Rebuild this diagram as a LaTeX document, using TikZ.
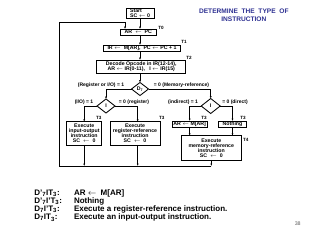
\documentclass[tikz,border=0pt]{standalone}
\usepackage{fontspec}
\setmainfont{Liberation Sans}
\usetikzlibrary{arrows.meta,shapes.geometric}
\definecolor{ttl}{RGB}{46,49,146}
\definecolor{pgn}{RGB}{90,90,90}
\begin{document}
\begin{tikzpicture}[x=1pt,y=-1pt,
  every node/.style={inner sep=0pt, outer sep=0pt},
  box/.style={draw, line width=0.85pt, align=center, font=\fontsize{5.2}{5}\selectfont\bfseries},
  dia/.style={draw, line width=0.85pt, shape=diamond, font=\fontsize{5.2}{5}\selectfont\bfseries},
  lbl/.style={font=\fontsize{5}{5}\selectfont\bfseries},
  tl/.style={font=\fontsize{4.6}{5}\selectfont\bfseries},
  arr/.style={line width=0.75pt, -{Latex[length=2.3pt,width=1.9pt]}},
  big/.style={font=\fontsize{8}{8}\selectfont\bfseries, anchor=base west}]
\useasboundingbox (0,0) rectangle (320,240);
% boxes
\node[box, minimum width=28pt, minimum height=10pt, align=left] (start) at (140,13) {Start\\SC $\leftarrow$ 0};
\node[box, minimum width=35.3pt, minimum height=6pt] (ar) at (138.3,32) {AR \ $\leftarrow$ \ PC};
\node[box, minimum width=76.6pt, minimum height=6.7pt] (ir) at (142,48.3) {IR $\leftarrow$ \ M[AR], \ PC $\leftarrow$ PC + 1};
\node[box, minimum width=89pt, minimum height=13.5pt] (dec) at (141.2,66.7) {Decode Opcode in IR(12-14),\\[0.6pt]AR $\leftarrow$ IR(0-11), \ \ I $\leftarrow$ IR(15)};
\node[dia, minimum width=17pt, minimum height=13pt] (d7) at (140,89) {D\textsubscript{7}};
\node[dia, minimum width=18pt, minimum height=14pt] (il) at (106,106) {I};
\node[dia, minimum width=19pt, minimum height=15pt] (ir2) at (210.7,106) {I};
\node[box, minimum width=35pt, minimum height=23.3pt] (exio) at (84.2,133.3) {Execute\\input-output\\instruction\\SC \ $\leftarrow$ \ 0};
\node[box, minimum width=50pt, minimum height=23.3pt] (exreg) at (135,133.3) {Execute\\register-reference\\instruction\\SC \ $\leftarrow$ \ 0};
\node[box, minimum width=34.7pt, minimum height=6.5pt] (armar) at (189.7,124.2) {AR $\leftarrow$ M[AR]};
\node[box, minimum width=28pt, minimum height=6.5pt] (noth) at (232.5,124.2) {Nothing};
\node[box, minimum width=59.3pt, minimum height=24.3pt] (exmem) at (211.3,147.8) {Execute\\memory-reference\\instruction\\SC \ $\leftarrow$ \ 0};
% T labels
\node[tl] (t0) at (161,28) {T0};
\node[tl] (t1) at (184,41.7) {T1};
\node[tl] (t2) at (189,57.7) {T2};
\node[tl] (t3a) at (98.7,117.7) {T3};
\node[tl] (t3b) at (161.7,117.7) {T3};
\node[tl] (t3c) at (204,117.7) {T3};
\node[tl] (t3d) at (243,117.7) {T3};
\node[tl] (t4) at (245.7,140) {T4};
% branch labels
\node[lbl] (b1) at (101,85.6) {(Register or I/O) = 1};
\node[lbl] (b2) at (181.5,85.6) {= 0 (Memory-reference)};
\node[lbl] (b3) at (84,102.6) {(I/O) = 1};
\node[lbl] (b4) at (134,102.6) {= 0 (register)};
\node[lbl] (b5) at (183,102.6) {(indirect) = 1};
\node[lbl] (b6) at (235,102.6) {= 0 (direct)};
% coordinates
\coordinate (regx) at (137.7,0);
\coordinate (bot) at (59.3,166);
\coordinate (top) at (59.3,22);
\coordinate (lx) at (125,22);
% connectors
\draw[arr] (start.south) -- (start.south |- ar.north);
\draw[arr] (d7.north |- ar.south) -- (d7.north |- ir.north);
\draw[arr] (d7.north |- ir.south) -- (d7.north |- dec.north);
\draw[arr] (d7.north |- dec.south) -- (d7.north);
\draw[arr] (d7.west) -| (il.north);
\draw[arr] (d7.east) -| (ir2.north);
\draw[arr] (il.west) -| (exio.north);
\draw[arr] (il.east) -| (regx |- exreg.north);
\draw[arr] (ir2.west) -| (armar.north);
\draw[arr] (ir2.east) -| (noth.north);
\draw[arr] (armar.south) -- (armar.south |- exmem.north);
\draw[arr] (noth.south) -- (noth.south |- exmem.north);
\draw[arr] (exio.south) -- (exio.south |- bot);
\draw[arr] (regx |- exreg.south) -- (regx |- bot);
\draw[arr] (exmem.south) -- (exmem.south |- bot);
\draw[arr] (exmem.south |- bot) -- (bot) -- (top) -- (lx) -- (lx |- ar.north);
% title
\node[font=\fontsize{6.6}{7.2}\selectfont\bfseries, text=ttl, align=center] (title) at (243.8,15.3) {DETERMINE\ \ THE\ \ TYPE\ \ OF\\INSTRUCTION};
% bottom text
\node[big] (c1) at (34.3,195.2) {D'\textsubscript{7}IT\textsubscript{3}:};
\node[big] (c2) at (34.3,203.4) {D'\textsubscript{7}I'T\textsubscript{3}:};
\node[big] (c3) at (34.3,211.5) {D\textsubscript{7}I'T\textsubscript{3}:};
\node[big] (c4) at (34.3,219.6) {D\textsubscript{7}IT\textsubscript{3}:};
\node[big] (d1) at (74,195.2) {AR $\leftarrow$ \ M[AR]};
\node[big] (d2) at (74,203.4) {Nothing};
\node[big] (d3) at (74,211.5) {Execute a register-reference instruction.};
\node[big] (d4) at (74,219.6) {Execute an input-output instruction.};
\node[font=\fontsize{5.3}{5}\selectfont, text=pgn] (pg) at (297.7,224) {38};
\end{tikzpicture}
\end{document}
